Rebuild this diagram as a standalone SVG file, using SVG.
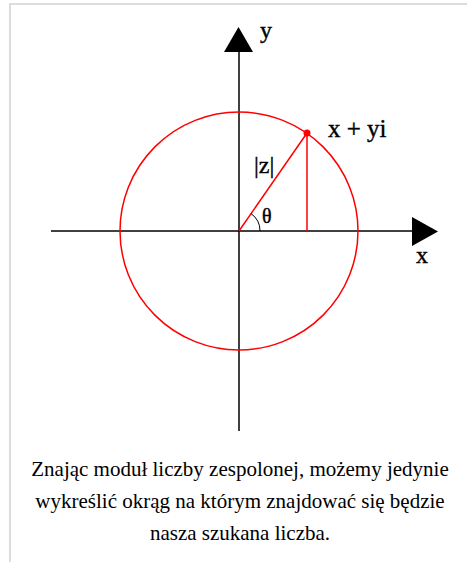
<svg xmlns="http://www.w3.org/2000/svg" width="467" height="562" viewBox="0 0 467 562">
<style>
.axis{stroke:#000;stroke-width:1.5;fill:none}
.red{stroke:#f00;stroke-width:1.5;fill:none}
.lbl{font-family:"Liberation Serif","Times New Roman",serif;fill:#000;stroke:#000;stroke-width:0.4}
.cap{font-family:"Liberation Serif","Times New Roman",serif;font-size:21px;fill:#000;text-anchor:middle}
</style>
<rect x="0" y="0" width="467" height="562" fill="#fff"/>
<path d="M10,562 V4 H467" stroke="#dcdcdc" stroke-width="2" fill="none"/>
<g id="connectors">
<line class="axis" x1="51" y1="231" x2="414" y2="231"/>
<line class="axis" x1="239" y1="51" x2="239" y2="431"/>
<polygon points="412,217 438,231.5 412,246" fill="#000"/>
<polygon points="224,52 238.5,27 253,52" fill="#000"/>
<line class="red" x1="239" y1="231" x2="307" y2="133"/>
<line class="red" x1="307" y1="133" x2="307" y2="231"/>
<path d="M251,213.6 A21,21 0 0 1 260,231" stroke="#000" stroke-width="1" fill="none"/>
</g>
<g id="circle"><circle class="red" cx="239" cy="231" r="119"/></g>
<g id="point"><circle cx="307" cy="133" r="3.5" fill="#f00"/></g>
<g id="labels">
<text class="lbl" x="260" y="38" font-size="24">y</text>
<text class="lbl" x="416" y="263" font-size="24">x</text>
<text class="lbl" x="328" y="137" font-size="25">x + yi</text>
<text class="lbl" x="254" y="173" font-size="24">|z|</text>
<text class="lbl" x="262" y="223" font-size="20">θ</text>
</g>
<g id="caption">
<text class="cap" x="240" y="476">Znając moduł liczby zespolonej, możemy jedynie</text>
<text class="cap" x="240" y="508">wykreślić okrąg na którym znajdować się będzie</text>
<text class="cap" x="240" y="540">nasza szukana liczba.</text>
</g>
</svg>
